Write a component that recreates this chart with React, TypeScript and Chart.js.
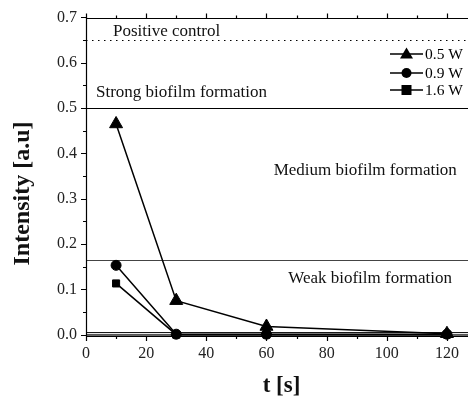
import React, { useEffect, useRef } from "react";
import { Chart, registerables } from "chart.js";

Chart.register(...registerables);

const timeValues = [10, 30, 60, 120];
const series05W = [0.465, 0.075, 0.018, 0.002];
const series09W = [0.153, 0.001, 0.001, 0.001];
const series16W = [0.113, 0.0, 0.0, 0.0];
const seriesLabels = ["0.5 W", "0.9 W", "1.6 W"];
const seriesMarkers = ["triangle", "circle", "rect"];
const positiveControl = 0.65;
const strongThreshold = 0.5;
const weakThreshold = 0.165;
const zoneLabels = ["Positive control", "Strong biofilm formation", "Medium biofilm formation", "Weak biofilm formation"];
const yTickLabels = ["0.0", "0.1", "0.2", "0.3", "0.4", "0.5", "0.6", "0.7"];
const xTickLabels = ["0", "20", "40", "60", "80", "100", "120"];
const xTitle = "t [s]";
const yTitle = "Intensity [a.u]";

const FONT = "'Liberation Serif', 'Times New Roman', serif";

const decorPlugin = {
  id: "decor",
  beforeDatasetsDraw(chart: any) {
    const { ctx, chartArea, scales } = chart;
    const x = scales.x, y = scales.y;
    ctx.save();
    ctx.strokeStyle = "#000";
    ctx.lineWidth = 1.2;
    ctx.setLineDash([1.5, 4.5]);
    const yp = Math.round(y.getPixelForValue(positiveControl)) + 0.5;
    ctx.beginPath();
    ctx.moveTo(chartArea.left, yp);
    ctx.lineTo(chartArea.right, yp);
    ctx.stroke();
    ctx.setLineDash([]);
    ctx.lineWidth = 1.2;
    const ys = Math.round(y.getPixelForValue(strongThreshold)) + 0.5;
    ctx.beginPath();
    ctx.moveTo(chartArea.left, ys);
    ctx.lineTo(chartArea.right, ys);
    ctx.stroke();
    ctx.strokeStyle = "#444";
    const yw = Math.round(y.getPixelForValue(weakThreshold)) + 0.5;
    ctx.beginPath();
    ctx.moveTo(chartArea.left, yw);
    ctx.lineTo(chartArea.right, yw);
    ctx.stroke();
    const drawH = (v: number, c: string, w: number) => {
      ctx.strokeStyle = c;
      ctx.lineWidth = w;
      const p = y.getPixelForValue(v);
      ctx.beginPath();
      ctx.moveTo(chartArea.left, p);
      ctx.lineTo(chartArea.right, p);
      ctx.stroke();
    };
    drawH(0.0045, "#000", 1);
    drawH(0.0, "#555", 1.5);
    drawH(-0.0022, "#666", 1.5);

    ctx.fillStyle = "#111";
    ctx.font = `17px ${FONT}`;
    ctx.textBaseline = "alphabetic";
    ctx.textAlign = "left";
    ctx.fillText(zoneLabels[0], x.getPixelForValue(8.98), y.getPixelForValue(0.659));
    ctx.fillText(zoneLabels[1], x.getPixelForValue(3.32), y.getPixelForValue(0.5245));
    ctx.textAlign = "right";
    ctx.fillText(zoneLabels[2], x.getPixelForValue(123.3), y.getPixelForValue(0.3524));
    ctx.fillText(zoneLabels[3], x.getPixelForValue(121.7), y.getPixelForValue(0.1146));
    ctx.restore();
  },
  afterDraw(chart: any) {
    const { ctx, chartArea, scales } = chart;
    const x = scales.x, y = scales.y;
    ctx.save();
    ctx.strokeStyle = "#000";
    ctx.lineWidth = 1.2;
    ctx.beginPath();
    ctx.moveTo(chartArea.left + 0.5, chartArea.top);
    ctx.lineTo(chartArea.left + 0.5, chartArea.bottom);
    ctx.moveTo(chartArea.left, chartArea.bottom + 0.5);
    ctx.lineTo(chartArea.right, chartArea.bottom + 0.5);
    const top = Math.round(y.getPixelForValue(0.7)) + 0.5;
    ctx.moveTo(chartArea.left, top);
    ctx.lineTo(chartArea.right, top);
    ctx.stroke();
    ctx.beginPath();
    for (let i = 0; i <= 14; i++) {
      const p = Math.round(y.getPixelForValue(i * 0.05)) + 0.5;
      const len = i % 2 === 0 ? 5 : 3;
      ctx.moveTo(chartArea.left, p);
      ctx.lineTo(chartArea.left - len, p);
    }
    for (let i = 0; i <= 12; i++) {
      const p = Math.round(x.getPixelForValue(i * 10)) + 0.5;
      const len = i % 2 === 0 ? 5 : 3;
      ctx.moveTo(p, chartArea.bottom);
      ctx.lineTo(p, chartArea.bottom + len);
      ctx.moveTo(p, top);
      ctx.lineTo(p, top - len);
    }
    ctx.stroke();

    ctx.fillStyle = "#111";
    ctx.textAlign = "center";
    ctx.textBaseline = "middle";
    ctx.font = `bold 23px ${FONT}`;
    ctx.fillText(xTitle, 281.5, 386);
    ctx.save();
    ctx.translate(23, 193.5);
    ctx.rotate(-Math.PI / 2);
    ctx.font = `bold 24px ${FONT}`;
    ctx.fillText(yTitle, 0, 0);
    ctx.restore();

    const rows = [54, 73, 90];
    ctx.font = `15.5px ${FONT}`;
    ctx.textBaseline = "middle";
    ctx.textAlign = "left";
    ctx.fillStyle = "#000";
    for (let i = 0; i < 3; i++) {
      const ry = rows[i];
      ctx.lineWidth = 1.5;
      ctx.beginPath();
      ctx.moveTo(390, ry);
      ctx.lineTo(423, ry);
      ctx.stroke();
      const cx = 406.5;
      ctx.beginPath();
      if (seriesMarkers[i] === "triangle") {
        ctx.moveTo(cx, ry - 6.5);
        ctx.lineTo(cx + 6.5, ry + 4.5);
        ctx.lineTo(cx - 6.5, ry + 4.5);
        ctx.closePath();
      } else if (seriesMarkers[i] === "circle") {
        ctx.arc(cx, ry, 5, 0, Math.PI * 2);
      } else {
        ctx.rect(cx - 5, ry - 5, 10, 10);
      }
      ctx.fill();
      ctx.fillText(seriesLabels[i], 425, ry + 1);
    }
    ctx.restore();
  },
};

export default function App() {
  const ref = useRef<HTMLCanvasElement>(null);
  useEffect(() => {
    if (!ref.current) return;
    const mk = (label: string, data: number[], style: string, r: number) => ({
      label,
      data: timeValues.map((t, i) => ({ x: t, y: data[i] })),
      borderColor: "#000",
      backgroundColor: "#000",
      borderWidth: 1.5,
      pointStyle: style,
      pointRadius: r,
      pointBorderWidth: 1,
      showLine: true,
      tension: 0,
      clip: false,
    });
    const chart = new Chart(ref.current, {
      type: "scatter",
      data: {
        datasets: [
          mk(seriesLabels[0], series05W, "triangle", 7.5),
          mk(seriesLabels[1], series09W, "circle", 5),
          mk(seriesLabels[2], series16W, "rect", 5),
        ],
      },
      plugins: [decorPlugin],
      options: {
        animation: false,
        responsive: false,
        layout: { autoPadding: false, padding: { top: 17.5, right: 1, left: 0, bottom: 0 } },
        plugins: { legend: { display: false }, tooltip: { enabled: false } },
        scales: {
          x: {
            type: "linear",
            min: 0,
            max: 127,
            afterFit: (s: any) => { s.height = 62; s.paddingLeft = 0; s.paddingRight = 0; },
            afterBuildTicks: (s: any) => {
              s.ticks = xTickLabels.map((l) => ({ value: Number(l) }));
            },
            grid: { display: false, drawTicks: false },
            border: { display: false },
            ticks: {
              padding: 8,
              color: "#222",
              font: { family: FONT, size: 16 },
              callback: (v: any) => String(v),
              maxRotation: 0,
            },
            title: { display: false },
          },
          y: {
            type: "linear",
            min: -0.003,
            max: 0.7,
            afterFit: (s: any) => { s.width = 86; s.paddingTop = 0; s.paddingBottom = 0; },
            afterBuildTicks: (s: any) => {
              s.ticks = yTickLabels.map((l) => ({ value: Number(l) }));
            },
            grid: { display: false, drawTicks: false },
            border: { display: false },
            ticks: {
              padding: 9,
              color: "#222",
              font: { family: FONT, size: 16 },
              callback: (v: any) => Number(v).toFixed(1),
            },
            title: { display: false },
          },
        },
      },
    } as any);
    return () => chart.destroy();
  }, []);
  return (
    <div style={{ position: "absolute", left: 0, top: 0, width: 469, height: 398, background: "#fff" }}>
      <canvas ref={ref} width={469} height={398} />
    </div>
  );
}
